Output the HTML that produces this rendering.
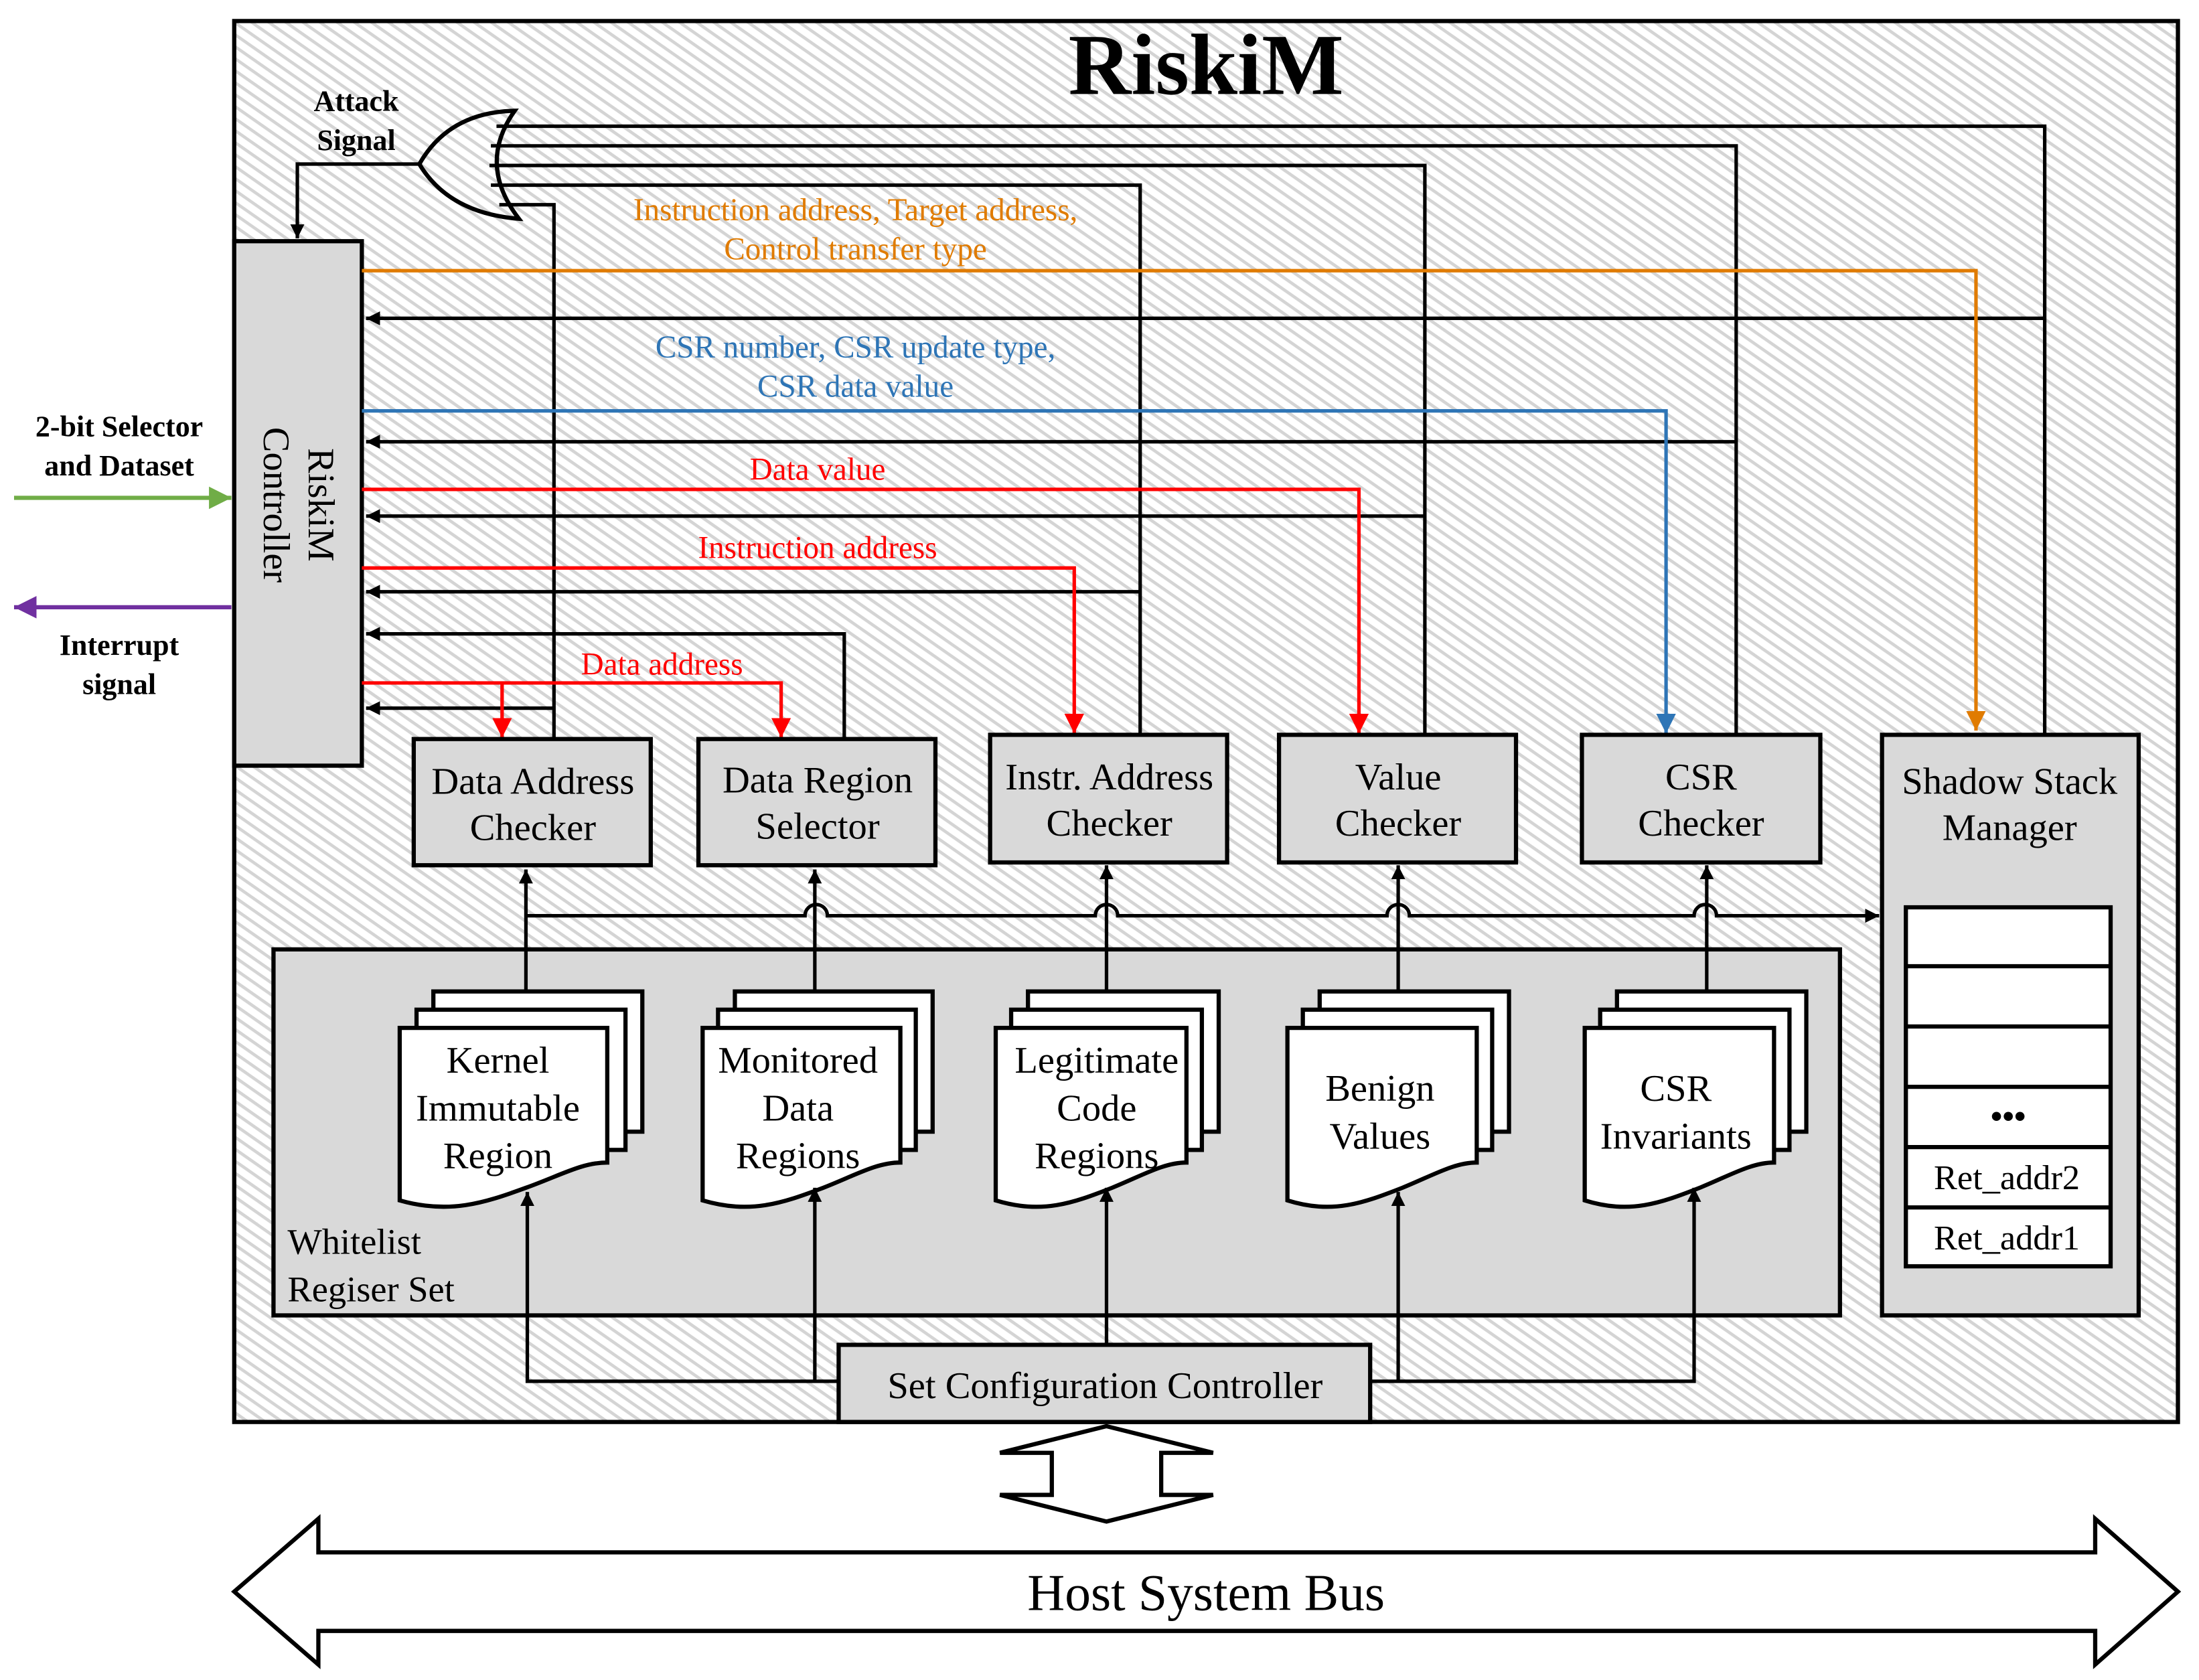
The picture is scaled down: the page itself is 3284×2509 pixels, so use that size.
<!DOCTYPE html>
<html><head><meta charset="utf-8">
<style>
html,body{margin:0;padding:0;background:#fff;}
svg{display:block;}
text{font-family:"Liberation Serif",serif;}
</style></head>
<body>
<svg width="3284" height="2509" viewBox="0 0 1568 1198" xmlns="http://www.w3.org/2000/svg">
<defs>
<pattern id="hatch" patternUnits="userSpaceOnUse" width="7" height="7" patternTransform="rotate(35)">
<rect width="7" height="7" fill="#ffffff"/>
<rect width="7" height="2.2" fill="#d4d4d4"/>
</pattern>
<marker id="ak" markerUnits="userSpaceOnUse" markerWidth="12" markerHeight="12" refX="10" refY="5" orient="auto"><path d="M0,0 L10,5 L0,10 Z" fill="#000"/></marker>
<marker id="ar" markerUnits="userSpaceOnUse" markerWidth="16" markerHeight="16" refX="14" refY="7" orient="auto"><path d="M0,0 L14,7 L0,14 Z" fill="#ff0000"/></marker>
<marker id="ao" markerUnits="userSpaceOnUse" markerWidth="16" markerHeight="16" refX="14" refY="7" orient="auto"><path d="M0,0 L14,7 L0,14 Z" fill="#e07b00"/></marker>
<marker id="ab" markerUnits="userSpaceOnUse" markerWidth="16" markerHeight="16" refX="14" refY="7" orient="auto"><path d="M0,0 L14,7 L0,14 Z" fill="#2e75b6"/></marker>
<marker id="ag" markerUnits="userSpaceOnUse" markerWidth="18" markerHeight="18" refX="16" refY="8" orient="auto"><path d="M0,0 L16,8 L0,16 Z" fill="#70ad47"/></marker>
<marker id="ap" markerUnits="userSpaceOnUse" markerWidth="18" markerHeight="18" refX="16" refY="8" orient="auto"><path d="M0,0 L16,8 L0,16 Z" fill="#7030a0"/></marker>
</defs>

<rect x="167" y="15" width="1386" height="999" fill="url(#hatch)" stroke="#000" stroke-width="3"/>
<text x="860" y="67" font-size="62" font-weight="bold" text-anchor="middle">RiskiM</text>

<text x="85" y="311" font-size="21" font-weight="bold" text-anchor="middle">2-bit Selector</text>
<text x="85" y="339" font-size="21" font-weight="bold" text-anchor="middle">and Dataset</text>
<line x1="10" y1="355" x2="165" y2="355" stroke="#70ad47" stroke-width="3" marker-end="url(#ag)"/>
<line x1="165" y1="433" x2="10" y2="433" stroke="#7030a0" stroke-width="3" marker-end="url(#ap)"/>
<text x="85" y="467" font-size="21" font-weight="bold" text-anchor="middle">Interrupt</text>
<text x="85" y="495" font-size="21" font-weight="bold" text-anchor="middle">signal</text>

<rect x="167" y="172" width="91" height="374" fill="#d9d9d9" stroke="#000" stroke-width="3"/>
<g transform="translate(212,360) rotate(90)">
<text x="0" y="-8" font-size="27" text-anchor="middle">RiskiM</text>
<text x="0" y="24" font-size="27" text-anchor="middle">Controller</text>
</g>

<text x="254" y="79" font-size="21" font-weight="bold" text-anchor="middle">Attack</text>
<text x="254" y="107" font-size="21" font-weight="bold" text-anchor="middle">Signal</text>
<path d="M299,117 L212,117 L212,170" fill="none" stroke="#000" stroke-width="2.5" marker-end="url(#ak)"/>
<path d="M367,79 Q320,80 299,117 Q320,152 370,156 Q340,117 367,79 Z" fill="none" stroke="#000" stroke-width="3"/>
<g stroke="#000" stroke-width="2.5" fill="none">
<path d="M354,90 H1458 V524"/>
<path d="M350,104 H1238 V524"/>
<path d="M349,118 H1016 V524"/>
<path d="M350,132 H813 V524"/>
<path d="M356,146 H395 V527"/>
</g>

<g stroke="#000" stroke-width="2.5" fill="none" marker-end="url(#ak)">
<line x1="1458" y1="227" x2="261" y2="227"/>
<line x1="1238" y1="315" x2="261" y2="315"/>
<line x1="1016" y1="368" x2="261" y2="368"/>
<line x1="813" y1="422" x2="261" y2="422"/>
<path d="M602,527 V452 H261"/>
<line x1="395" y1="505" x2="261" y2="505"/>
</g>

<path d="M258,193 H1409 V521" fill="none" stroke="#e07b00" stroke-width="2.5" marker-end="url(#ao)"/>
<text x="610" y="157" font-size="22.5" fill="#e07b00" text-anchor="middle">Instruction address, Target address,</text>
<text x="610" y="185" font-size="22.5" fill="#e07b00" text-anchor="middle">Control transfer type</text>
<path d="M258,293 H1188 V523" fill="none" stroke="#2e75b6" stroke-width="2.5" marker-end="url(#ab)"/>
<text x="610" y="255" font-size="22.5" fill="#2e75b6" text-anchor="middle">CSR number, CSR update type,</text>
<text x="610" y="283" font-size="22.5" fill="#2e75b6" text-anchor="middle">CSR data value</text>
<path d="M258,349 H969 V523" fill="none" stroke="#ff0000" stroke-width="2.5" marker-end="url(#ar)"/>
<text x="583" y="342" font-size="22.5" fill="#ff0000" text-anchor="middle">Data value</text>
<path d="M258,405 H766 V523" fill="none" stroke="#ff0000" stroke-width="2.5" marker-end="url(#ar)"/>
<text x="583" y="398" font-size="22.5" fill="#ff0000" text-anchor="middle">Instruction address</text>
<path d="M258,487 H557 V526" fill="none" stroke="#ff0000" stroke-width="2.5" marker-end="url(#ar)"/>
<path d="M358,487 V526" fill="none" stroke="#ff0000" stroke-width="2.5" marker-end="url(#ar)"/>
<text x="472" y="481" font-size="22.5" fill="#ff0000" text-anchor="middle">Data address</text>

<g fill="#d9d9d9" stroke="#000" stroke-width="3">
<rect x="295" y="527" width="169" height="90"/>
<rect x="498" y="527" width="169" height="90"/>
<rect x="706" y="524" width="169" height="91"/>
<rect x="912" y="524" width="169" height="91"/>
<rect x="1128" y="524" width="170" height="91"/>
<rect x="1342" y="524" width="183" height="414"/>
</g>
<g font-size="27" text-anchor="middle">
<text x="380" y="566">Data Address</text><text x="380" y="599">Checker</text>
<text x="583" y="565">Data Region</text><text x="583" y="598">Selector</text>
<text x="791" y="563">Instr. Address</text><text x="791" y="596">Checker</text>
<text x="997" y="563">Value</text><text x="997" y="596">Checker</text>
<text x="1213" y="563">CSR</text><text x="1213" y="596">Checker</text>
<text x="1433" y="566">Shadow Stack</text><text x="1433" y="599">Manager</text>
</g>
<rect x="1359" y="647" width="146" height="256" fill="#fff" stroke="#000" stroke-width="3"/>
<g stroke="#000" stroke-width="3">
<line x1="1359" y1="689" x2="1505" y2="689"/>
<line x1="1359" y1="732" x2="1505" y2="732"/>
<line x1="1359" y1="775" x2="1505" y2="775"/>
<line x1="1359" y1="818" x2="1505" y2="818"/>
<line x1="1359" y1="861" x2="1505" y2="861"/>
</g>
<text x="1432" y="804" font-size="24" font-weight="bold" text-anchor="middle">•••</text>
<text x="1431" y="848" font-size="25" text-anchor="middle">Ret_addr2</text>
<text x="1431" y="891" font-size="25" text-anchor="middle">Ret_addr1</text>

<rect x="195" y="677" width="1117" height="261" fill="#d9d9d9" stroke="#000" stroke-width="3"/>
<text x="205" y="894" font-size="26">Whitelist</text>
<text x="205" y="928" font-size="26">Regiser Set</text>

<path d="M375,653 H574 A8,8 0 0 1 590,653 H781 A8,8 0 0 1 797,653 H989 A8,8 0 0 1 1005,653 H1208 A8,8 0 0 1 1224,653 H1340" fill="none" stroke="#000" stroke-width="2.5" marker-end="url(#ak)"/>
<g stroke="#000" stroke-width="2.5" marker-end="url(#ak)">
<line x1="375" y1="707" x2="375" y2="620"/>
<line x1="581" y1="707" x2="581" y2="620"/>
<line x1="789" y1="707" x2="789" y2="617"/>
<line x1="997" y1="707" x2="997" y2="617"/>
<line x1="1217" y1="707" x2="1217" y2="617"/>
</g>

<g fill="#fff" stroke="#000" stroke-width="3">
<!-- Kernel: front 285..433 -->
<rect x="309" y="707" width="149" height="100"/>
<rect x="297" y="720" width="149" height="100"/>
<path d="M285,733 H433 V829 C415,829 400,838 375,847 C345,858 320,866 285,856 Z"/>
<!-- Monitored: front 501..642 -->
<rect x="524" y="707" width="141" height="100"/>
<rect x="512" y="720" width="141" height="100"/>
<path d="M501,733 H642 V829 C625,829 610,838 587,847 C558,858 535,866 501,856 Z"/>
<!-- Legitimate: front 710..846 -->
<rect x="733" y="707" width="136" height="100"/>
<rect x="721" y="720" width="136" height="100"/>
<path d="M710,733 H846 V829 C830,829 815,838 793,847 C765,858 743,866 710,856 Z"/>
<!-- Benign: front 918..1053 -->
<rect x="941" y="707" width="135" height="100"/>
<rect x="929" y="720" width="135" height="100"/>
<path d="M918,733 H1053 V829 C1037,829 1022,838 1000,847 C972,858 950,866 918,856 Z"/>
<!-- CSR: front 1130..1265 -->
<rect x="1153" y="707" width="135" height="100"/>
<rect x="1141" y="720" width="135" height="100"/>
<path d="M1130,733 H1265 V829 C1249,829 1234,838 1212,847 C1184,858 1162,866 1130,856 Z"/>
</g>
<g font-size="27" text-anchor="middle">
<text x="355" y="765">Kernel</text><text x="355" y="799">Immutable</text><text x="355" y="833">Region</text>
<text x="569" y="765">Monitored</text><text x="569" y="799">Data</text><text x="569" y="833">Regions</text>
<text x="782" y="765">Legitimate</text><text x="782" y="799">Code</text><text x="782" y="833">Regions</text>
<text x="984" y="785">Benign</text><text x="984" y="819">Values</text>
<text x="1195" y="785">CSR</text><text x="1195" y="819">Invariants</text>
</g>

<g stroke="#000" stroke-width="2.5" fill="none" marker-end="url(#ak)">
<path d="M598,985 H376 V850"/>
<path d="M581,985 V847"/>
<path d="M789,959 V847"/>
<path d="M977,985 H1208 V847"/>
<path d="M997,985 V850"/>
</g>
<rect x="598" y="959" width="379" height="55" fill="#d9d9d9" stroke="#000" stroke-width="3"/>
<text x="788" y="997" font-size="27" text-anchor="middle">Set Configuration Controller</text>

<path d="M789,1017 L865,1036 H828 V1066 H865 L789,1085 L713,1066 H750 V1036 H713 Z" fill="#fff" stroke="#000" stroke-width="3"/>

<path d="M167,1135 L227,1083 V1107 H1494 V1083 L1553,1135 L1494,1187 V1163 H227 V1187 Z" fill="#fff" stroke="#000" stroke-width="3"/>
<text x="860" y="1148" font-size="37" text-anchor="middle">Host System Bus</text>
</svg>
</body></html>
